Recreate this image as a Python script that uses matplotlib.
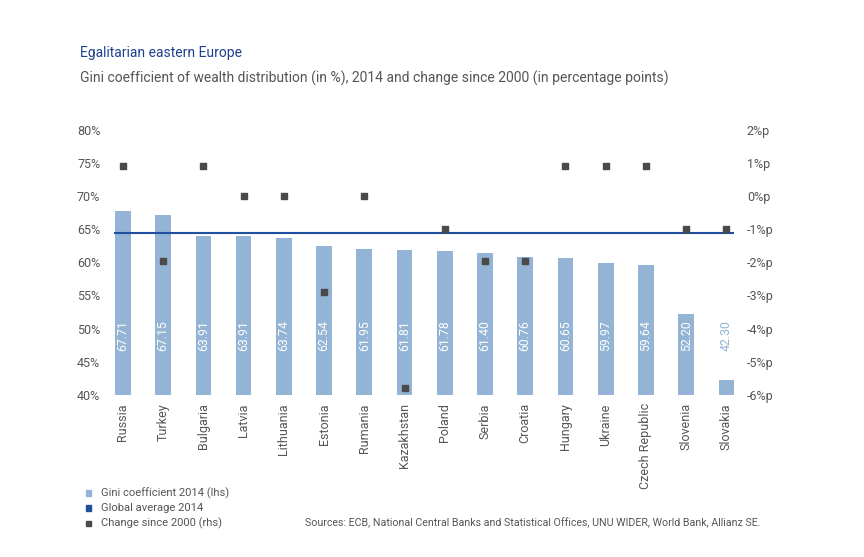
import matplotlib.pyplot as plt
import numpy as np

plt.rcParams['font.family'] = ['Roboto', 'DejaVu Sans']

# data
countries = ["Russia", "Turkey", "Bulgaria", "Latvia", "Lithuania", "Estonia",
             "Rumania", "Kazakhstan", "Poland", "Serbia", "Croatia", "Hungary",
             "Ukraine", "Czech Republic", "Slovenia", "Slovakia"]
gini_2014 = [67.71, 67.15, 63.91, 63.91, 63.74, 62.54, 61.95, 61.81,
             61.78, 61.40, 60.76, 60.65, 59.97, 59.64, 52.20, 42.30]
change_since_2000 = [0.9, -1.95, 0.9, 0.0, 0.0, -2.9, 0.0, -5.8,
                     -1.0, -1.95, -1.95, 0.9, 0.9, 0.9, -1.0, -1.0]
global_avg = 64.4
left_ticks = [40, 45, 50, 55, 60, 65, 70, 75, 80]
right_ticks = [-6, -5, -4, -3, -2, -1, 0, 1, 2]

bar_col = "#93b4d5"
line_col = "#1f4f9e"
mark_col = "#4a4a4a"
text_col = "#555555"

fig = plt.figure(figsize=(8.64, 5.57), dpi=100)
ax = fig.add_axes([0.132, 0.291, 0.718, 0.476])
x = np.arange(len(countries))

ax.bar(x, [g - 40 for g in gini_2014], bottom=40, width=0.39, color=bar_col, zorder=2)
ax.axhline(global_avg, color=line_col, lw=1.5, zorder=3)

for i, g in enumerate(gini_2014):
    col = "white" if g > 50 else bar_col
    ax.text(i, 49, f"{g:.2f}", rotation=90, ha="center", va="center",
            color=col, fontsize=8.8, zorder=4)

ax.set_ylim(40, 80)
ax.set_xlim(-0.22, 15.2)
ax.set_yticks(left_ticks)
ax.set_yticklabels([f"{t}%" for t in left_ticks])
ax.set_xticks(x)
ax.set_xticklabels(countries, rotation=90)
ax.tick_params(length=0, labelsize=9, labelcolor=text_col)
ax.tick_params(axis="y", pad=10)
ax.tick_params(axis="x", pad=6)
for s in ax.spines.values():
    s.set_visible(False)

ax2 = ax.twinx()
ax2.scatter(x, change_since_2000, marker="s", s=14, color=mark_col, zorder=5)
ax2.set_ylim(-6, 2)
ax2.set_yticks(right_ticks)
ax2.set_yticklabels([f"{t}%p" for t in right_ticks])
ax2.tick_params(length=0, labelsize=9, labelcolor=text_col, pad=9)
for s in ax2.spines.values():
    s.set_visible(False)

fig.text(0.093, 0.898, "Egalitarian eastern Europe", color="#1f3f8f", fontsize=10)
fig.text(0.093, 0.852, "Gini coefficient of wealth distribution (in %), 2014 and change since 2000 (in percentage points)",
         color=text_col, fontsize=10)

legend_items = [("Gini coefficient 2014 (lhs)", bar_col),
                ("Global average 2014", line_col),
                ("Change since 2000 (rhs)", mark_col)]
for k, (lab, c) in enumerate(legend_items):
    y = 0.115 - k * 0.027
    fig.patches.append(plt.Rectangle((0.1, y - 0.005), 0.0055, 0.0095,
                                     transform=fig.transFigure, color=c))
    fig.text(0.117, y, lab, va="center", color=text_col, fontsize=8.1)

fig.text(0.353, 0.061, "Sources: ECB, National Central Banks and Statistical Offices, UNU WIDER, World Bank, Allianz SE.",
         va="center", color=text_col, fontsize=7.7)

fig.savefig("out.png", dpi=100, facecolor="white")
